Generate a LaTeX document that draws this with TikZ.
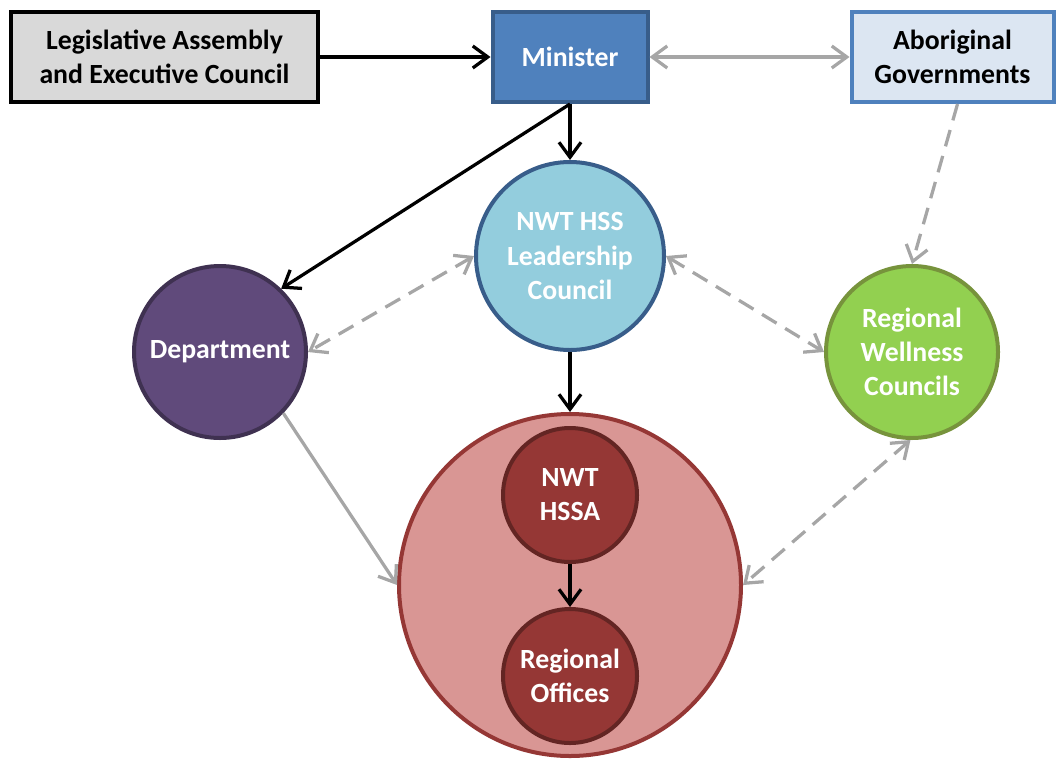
\documentclass[tikz,border=0pt]{standalone}
\usepackage{fontspec}
\setmainfont{Carlito}
\usetikzlibrary{arrows.meta, positioning, shapes.geometric}

\definecolor{legfill}{HTML}{D9D9D9}
\definecolor{minfill}{HTML}{4F81BD}
\definecolor{mindraw}{HTML}{385D8A}
\definecolor{abofill}{HTML}{DCE6F2}
\definecolor{leadfill}{HTML}{93CDDD}
\definecolor{deptfill}{HTML}{604A7B}
\definecolor{deptdraw}{HTML}{3F3151}
\definecolor{wellfill}{HTML}{92D050}
\definecolor{welldraw}{HTML}{77933C}
\definecolor{authfill}{HTML}{D99694}
\definecolor{authdraw}{HTML}{953735}
\definecolor{hssadraw}{HTML}{632523}
\definecolor{linkgray}{HTML}{A6A6A6}

\begin{document}
\begin{tikzpicture}[
    >={Straight Barb[length=0.3cm, width=0.44cm]},
    every node/.style={font=\fontsize{15.8}{19.4}\selectfont\bfseries, line width=0.08cm},
    box/.style={draw, rectangle, minimum height=1.8cm, align=center, inner sep=0pt},
    bubble/.style={draw, circle, align=center, inner sep=0pt, text=white},
    link/.style={->, line width=0.065cm},
    greylink/.style={line width=0.065cm, draw=linkgray},
    dashlink/.style={greylink, dash pattern=on 0.34cm off 0.2cm}
]

\useasboundingbox (0,0) rectangle (21.14,-15.18);

% Minister in the middle of the top row
\node[box, fill=minfill, draw=mindraw, text=white, minimum width=3.1cm] (minister) at (11.4,-1.14) {Minister};

% Legislature on the left, aboriginal governments on the right
\node[box, fill=legfill, draw=black, minimum width=6.12cm, left=3.42cm of minister] (legislature) {Legislative Assembly\\and Executive Council};
\node[box, fill=abofill, draw=minfill, minimum width=4.04cm, right=4cm of minister] (aboriginal) {Aboriginal\\Governments};

% Leadership council under the minister
\node[bubble, fill=leadfill, draw=mindraw, minimum size=3.76cm, below=1.12cm of minister] (leadership) {NWT HSS\\Leadership\\Council};

% Department and wellness councils on either side
\node[bubble, fill=deptfill, draw=deptdraw, minimum size=3.44cm] (department) at (4.4,-7.04) {Department};
\node[bubble, fill=wellfill, draw=welldraw, minimum size=3.44cm] (wellness) at (18.24,-7.04) {Regional\\Wellness\\Councils};

% Authority with its regional offices inside
\node[bubble, fill=authfill, draw=authdraw, minimum size=6.84cm, below=1.2cm of leadership] (authority) {};
\node[bubble, fill=authdraw, draw=hssadraw, minimum size=2.68cm, below=0.28cm of authority.north] (hssa) {NWT\\HSSA};
\node[bubble, fill=authdraw, draw=hssadraw, minimum size=2.68cm, below=0.86cm of hssa] (offices) {Regional\\Offices};

% Lines of authority
\draw[link] (legislature) -- (minister);
\draw[link] (minister.south) -- (leadership.north);
\draw[link] (minister.south) -- (department.46);
\draw[link] (leadership.south) -- (authority.north);
\draw[link] (hssa.south) -- (offices.north);

% Working relationships
\draw[greylink, <->] (minister.east) -- (aboriginal.west);
\draw[greylink, ->] (department.-44) -- (authority.west);
\draw[dashlink, ->] ([xshift=0.1cm]aboriginal.south) -- (wellness.north);
\draw[dashlink, <->] (leadership.west) -- (department.east);
\draw[dashlink, <->] (leadership.east) -- (wellness.west);
\draw[dashlink, <->] (wellness.-91) -- (authority.east);

\end{tikzpicture}
\end{document}
